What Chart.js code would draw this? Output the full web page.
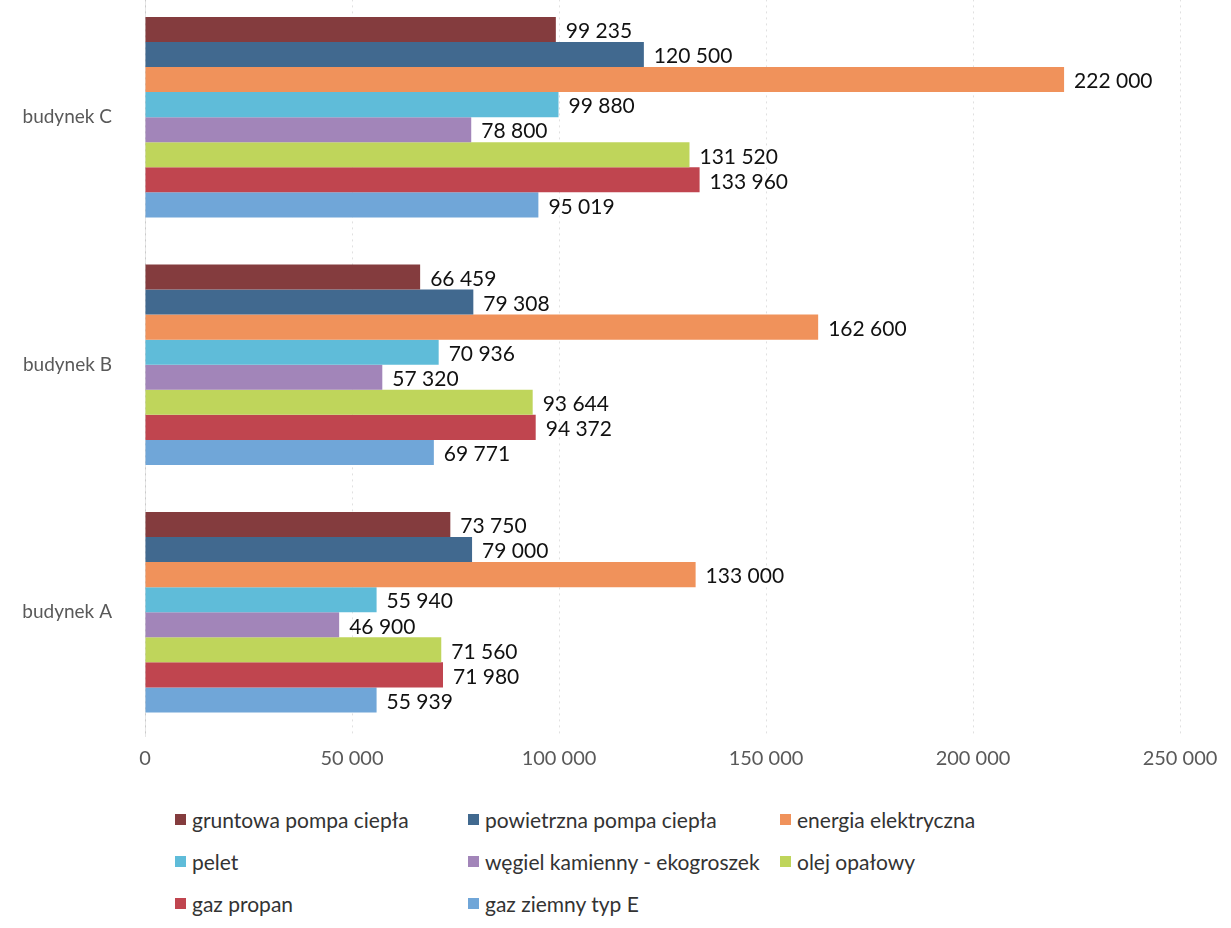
<!DOCTYPE html>
<html lang="pl">
<head>
<meta charset="utf-8">
<title>Koszty ogrzewania</title>
<script src="https://cdn.jsdelivr.net/npm/chart.js@4"></script>
<style>
  html, body { margin: 0; padding: 0; background: #fff; }
  body { width: 1231px; height: 928px; position: relative; overflow: hidden; font-family: Lato, "Open Sans", sans-serif; }
  #chart { position: absolute; left: 0; top: -43px; }
  .legend { position: absolute; left: 175px; top: 798px; display: grid;
    grid-template-columns: 293px 312px 260px; grid-auto-rows: 42px; }
  .legend__item { display: flex; align-items: center; font-size: 21px; color: #333; white-space: nowrap; }
  .legend__box { width: 11px; height: 11px; margin-right: 6px; flex: none; }
</style>
</head>
<body>
<canvas id="chart" width="1231" height="835"></canvas>
<div class="legend" id="legend"></div>

<script>
// Dane
const buildings = ['budynek C', 'budynek B', 'budynek A'];
const seriesNames = [
  'gruntowa pompa ciepła',
  'powietrzna pompa ciepła',
  'energia elektryczna',
  'pelet',
  'węgiel kamienny - ekogroszek',
  'olej opałowy',
  'gaz propan',
  'gaz ziemny typ E',
];
const gruntowa   = [99235, 66459, 73750];
const powietrzna = [120500, 79308, 79000];
const energia    = [222000, 162600, 133000];
const pelet      = [99880, 70936, 55940];
const wegiel     = [78800, 57320, 46900];
const olej       = [131520, 93644, 71560];
const propan     = [133960, 94372, 71980];
const ziemny     = [95019, 69771, 55939];
const xTicks = [0, 50000, 100000, 150000, 200000, 250000];

const colors = ['#843c3e', '#41698f', '#f0925b', '#5fbcd9', '#a285b9', '#bfd55b', '#c0454f', '#70a6d8'];
const values = [gruntowa, powietrzna, energia, pelet, wegiel, olej, propan, ziemny];

const fmt = v => String(v).replace(/\B(?=(\d{3})+(?!\d))/g, ' ');

// etykiety wartości przy końcu słupków
const valueLabels = {
  id: 'valueLabels',
  afterDatasetsDraw(chart) {
    const ctx = chart.ctx;
    ctx.save();
    ctx.font = '21px Lato, "Open Sans", sans-serif';
    ctx.fillStyle = '#111';
    ctx.textBaseline = 'middle';
    ctx.textAlign = 'left';
    chart.data.datasets.forEach((ds, i) => {
      const meta = chart.getDatasetMeta(i);
      meta.data.forEach((bar, j) => {
        ctx.fillText(fmt(ds.data[j]), bar.x + 10, bar.y + 2);
      });
    });
    ctx.restore();
  }
};

const chart = new Chart(document.getElementById('chart'), {
  type: 'bar',
  data: {
    labels: buildings,
    datasets: seriesNames.map((name, i) => ({
      label: name,
      data: values[i],
      backgroundColor: colors[i],
      borderWidth: 0,
      barPercentage: 1.0,
      categoryPercentage: 0.81,
    }))
  },
  options: {
    indexAxis: 'y',
    responsive: false,
    animation: false,
    devicePixelRatio: 1,
    layout: { padding: { top: 0, right: 51, bottom: 10, left: 0 } },
    plugins: {
      legend: { display: false },
      tooltip: { enabled: false },
    },
    scales: {
      x: {
        min: 0,
        max: 250000,
        afterBuildTicks: scale => { scale.ticks = xTicks.map(v => ({ value: v })); },
        border: { display: false, dash: [2, 4] },
        grid: { color: 'rgba(0,0,0,0.12)', drawTicks: false },
        ticks: {
          padding: 11,
          color: '#595959',
          font: { family: 'Lato, "Open Sans", sans-serif', size: 20 },
          callback: v => fmt(v),
        },
      },
      y: {
        afterFit: scale => { scale.width = 145; },
        border: { color: 'rgba(0,0,0,0.1)' },
        grid: { display: false },
        ticks: {
          padding: 25,
          color: '#595959',
          font: { family: 'Lato, "Open Sans", sans-serif', size: 19 },
        },
      },
    },
  },
  plugins: [valueLabels],
});

// legenda w siatce 3 kolumn
document.getElementById('legend').innerHTML = seriesNames.map((name, i) => `
  <div class="legend__item"><span class="legend__box" style="background:${colors[i]}"></span>${name}</div>
`).join('');
</script>
</body>
</html>
